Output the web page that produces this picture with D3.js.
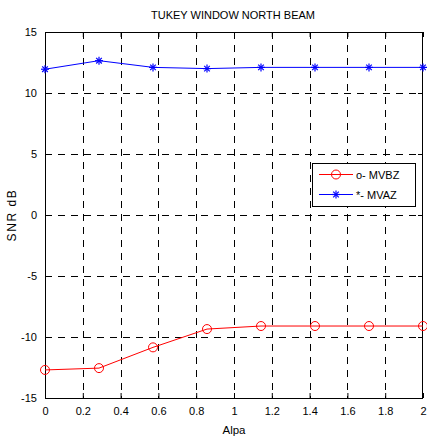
<!DOCTYPE html>
<html><head><meta charset="utf-8">
<script src="https://cdn.jsdelivr.net/npm/d3@7"></script>
<style>body{margin:0;background:#fff}svg{display:block;font-family:"Liberation Sans",Arial,sans-serif}</style>
</head><body>
<script>
const alpha = [0, 2/7, 4/7, 6/7, 8/7, 10/7, 12/7, 2];
const mvbz = [-12.7, -12.55, -10.85, -9.35, -9.1, -9.1, -9.1, -9.1];
const mvaz = [11.95, 12.65, 12.1, 12.0, 12.1, 12.1, 12.1, 12.1];
const xTicks = [0, 0.2, 0.4, 0.6, 0.8, 1, 1.2, 1.4, 1.6, 1.8, 2];
const yTicks = [-15, -10, -5, 0, 5, 10, 15];
const seriesNames = ["o- MVBZ", "*- MVAZ"];
const titleText = "TUKEY WINDOW NORTH BEAM";
const xLabel = "Alpa", yLabel = "SNR dB";

const W = 427, H = 440;
const m = {l: 45, r: 4, t: 32, b: 42};
const svg = d3.select("body").append("svg").attr("width", W).attr("height", H);
const x = d3.scaleLinear().domain([0, 2]).range([m.l, W - m.r]);
const y = d3.scaleLinear().domain([-15, 15]).range([H - m.b, m.t]);

// grid
const g = svg.append("g").attr("stroke", "#000").attr("stroke-width", 1).attr("stroke-dasharray", "7,6");
g.selectAll(".gx").data(xTicks.slice(1, -1)).join("line")
  .attr("x1", d => Math.round(x(d)) + 0.5).attr("x2", d => Math.round(x(d)) + 0.5)
  .attr("y1", m.t).attr("y2", H - m.b);
g.selectAll(".gy").data(yTicks.slice(1, -1)).join("line")
  .attr("y1", d => Math.round(y(d)) + 0.5).attr("y2", d => Math.round(y(d)) + 0.5)
  .attr("x1", m.l).attr("x2", W - m.r);

// axes (ticks inward)
const fmt = d => String(d);
svg.append("g").attr("transform", `translate(0,${H - m.b})`)
  .call(d3.axisBottom(x).tickValues(xTicks).tickFormat(fmt).tickSizeInner(-5).tickSizeOuter(0).tickPadding(9));
svg.append("g").attr("transform", `translate(${m.l},0)`)
  .call(d3.axisLeft(y).tickValues(yTicks).tickFormat(fmt).tickSizeInner(-5).tickSizeOuter(0).tickPadding(8));
svg.append("g").attr("transform", `translate(0,${m.t})`)
  .call(d3.axisTop(x).tickValues(xTicks).tickFormat("").tickSizeInner(-5).tickSizeOuter(0));
svg.append("g").attr("transform", `translate(${W - m.r},0)`)
  .call(d3.axisRight(y).tickValues(yTicks).tickFormat("").tickSizeInner(-5).tickSizeOuter(0));
svg.selectAll(".domain").remove();
svg.selectAll(".tick line").attr("stroke", "#000");
svg.selectAll(".tick text").attr("font-size", 11).attr("fill", "#000").attr("font-family", "Liberation Sans, Arial, sans-serif");

svg.append("rect").attr("x", m.l + 0.5).attr("y", m.t + 0.5)
  .attr("width", W - m.r - m.l - 1).attr("height", H - m.b - m.t).attr("fill", "none").attr("stroke", "#000");

const line = d3.line().x((d, i) => x(alpha[i])).y(d => y(d));

// red series
svg.append("path").datum(mvbz).attr("d", line).attr("fill", "none").attr("stroke", "#ff0000").attr("stroke-width", 1);
svg.selectAll(".c").data(mvbz).join("circle").attr("cx", (d, i) => x(alpha[i])).attr("cy", d => y(d))
  .attr("r", 4.5).attr("fill", "none").attr("stroke", "#ff0000").attr("stroke-width", 1);

// blue series
function star(sel, cx, cy, color) {
  const s = 4;
  const gg = sel.append("g").attr("stroke", color).attr("stroke-width", 1.2);
  gg.append("line").attr("x1", cx).attr("x2", cx).attr("y1", cy - s).attr("y2", cy + s);
  gg.append("line").attr("x1", cx - s).attr("x2", cx + s).attr("y1", cy).attr("y2", cy);
  gg.append("line").attr("x1", cx - s * 0.7).attr("x2", cx + s * 0.7).attr("y1", cy - s * 0.7).attr("y2", cy + s * 0.7);
  gg.append("line").attr("x1", cx - s * 0.7).attr("x2", cx + s * 0.7).attr("y1", cy + s * 0.7).attr("y2", cy - s * 0.7);
}
svg.append("path").datum(mvaz).attr("d", line).attr("fill", "none").attr("stroke", "#0000ff").attr("stroke-width", 1);
mvaz.forEach((d, i) => star(svg, x(alpha[i]), y(d), "#0000ff"));

// legend
const lg = svg.append("g");
lg.append("rect").attr("x", 312.5).attr("y", 163.5).attr("width", 103).attr("height", 43)
  .attr("fill", "#fff").attr("stroke", "#000").attr("stroke-width", 1);
lg.append("line").attr("x1", 319).attr("x2", 353).attr("y1", 174.5).attr("y2", 174.5).attr("stroke", "#ff0000");
lg.append("circle").attr("cx", 336).attr("cy", 174.5).attr("r", 4.5).attr("fill", "none").attr("stroke", "#ff0000");
lg.append("line").attr("x1", 319).attr("x2", 353).attr("y1", 194.5).attr("y2", 194.5).attr("stroke", "#0000ff");
star(lg, 336, 194.5, "#0000ff");
lg.selectAll("text").data(seriesNames).join("text").attr("x", 356).attr("y", (d, i) => 178.5 + i * 20)
  .attr("font-size", 11).attr("fill", "#000").text(d => d);

// labels
svg.append("text").attr("x", 233).attr("y", 19).attr("text-anchor", "middle").attr("font-size", 11).text(titleText);
svg.append("text").attr("x", x(1)).attr("y", 434).attr("text-anchor", "middle").attr("font-size", 11.5).text(xLabel);
svg.append("text").attr("transform", `translate(16,${y(0)}) rotate(-90)`).attr("text-anchor", "middle")
  .attr("font-size", 12).attr("letter-spacing", 1.6).text(yLabel);
</script>
</body></html>
